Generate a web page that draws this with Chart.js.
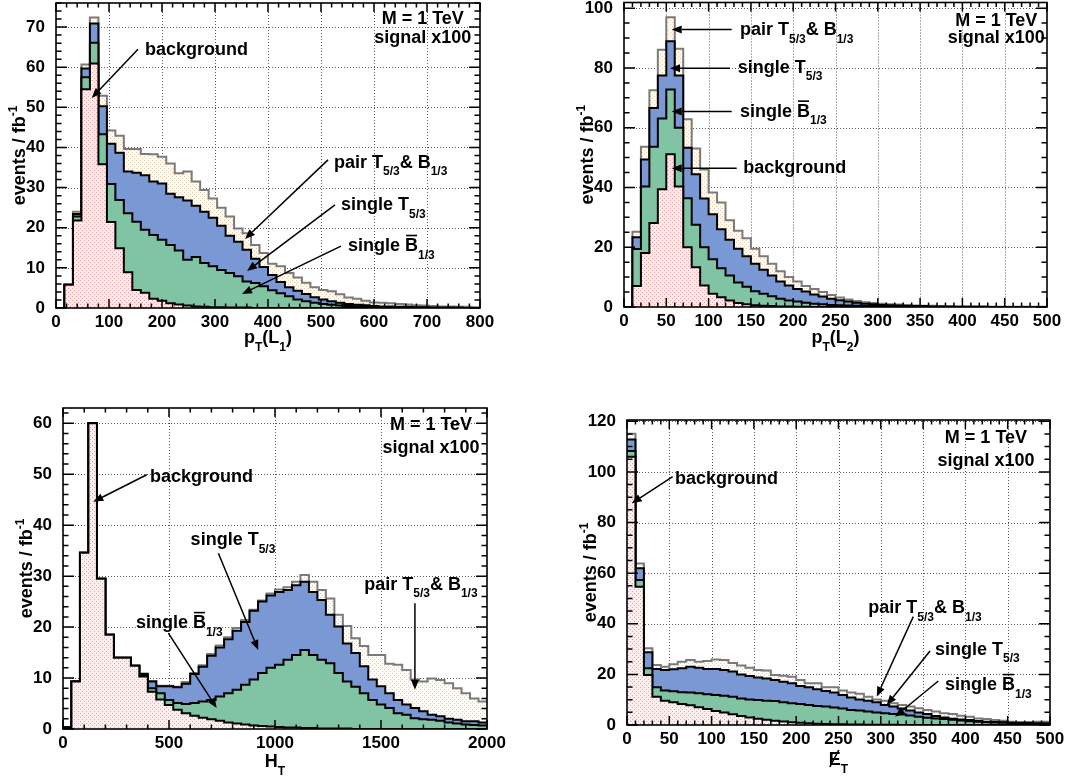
<!DOCTYPE html>
<html><head><meta charset="utf-8">
<script src="https://cdn.jsdelivr.net/npm/chart.js@4.4.0/dist/chart.umd.min.js"></script>
<style>
html,body{margin:0;padding:0;background:#fff;}
#wrap{position:relative;width:1068px;height:778px;overflow:hidden;}
canvas{position:absolute;}
</style></head><body>
<div id="wrap">
<canvas id="c1" width="534" height="389" style="left:0;top:0"></canvas>
<canvas id="c2" width="534" height="389" style="left:534px;top:0"></canvas>
<canvas id="c3" width="534" height="389" style="left:0;top:389px"></canvas>
<canvas id="c4" width="534" height="389" style="left:534px;top:389px"></canvas>
</div>
<script>
// ---------- DATA (events / fb^-1 per bin, signal x100) ----------
// pT(L1): 50 bins of 16 GeV from 0 to 800
const pt1BinWidth = 16;
const pt1Background = [0,5.8,21.8,54.5,60.9,35.8,21.4,14.9,8.9,4.5, 3.8,2.3,1.8,1.2,0.9,0.6,0.4,0.3,0.2,0.2, 0.1,0.1,0.1,0,0,0,0,0,0,0, 0,0,0,0,0,0,0,0,0,0, 0,0,0,0,0,0,0,0,0,0];
const pt1SingleB = [0,0,1.0,3.0,5.2,7.5,9.5,12.0,14.7,17.0, 15.7,15.9,15.2,14.5,13.4,11.4,12.3,10.9,10.2,9.3, 8.6,7.8,6.5,6.2,5.4,4.4,3.7,2.9,2.1,1.7, 1.3,1.0,0.8,0.6,0.5,0.4,0.3,0.3,0.2,0.2, 0.1,0.1,0.1,0.1,0,0,0,0,0,0];
const pt1SingleT = [0,0,0.6,2.2,4.8,7.0,10.0,11.8,10.4,12.2, 13.6,13.3,14.0,12.8,13.3,14.8,12.8,12.8,12.1,11.0, 9.3,8.6,7.9,6.1,4.8,3.8,2.8,2.3,2.2,1.8, 1.4,1.1,0.9,0.7,0.5,0.4,0.4,0.2,0.2,0.2, 0.2,0.2,0.1,0.1,0.1,0.1,0.1,0.1,0,0];
const pt1Pair = [0,0,0.6,1.0,1.5,2.6,3.3,4.2,5.6,5.9, 5.3,6.8,6.7,7.5,6.0,7.2,6.0,5.4,4.8,4.5, 4.8,3.3,4.1,3.4,3.5,2.8,3.9,3.5,3.3,2.8, 2.5,2.4,2.5,2.1,1.6,1.5,1.1,0.9,0.9,0.8, 0.7,0.6,0.5,0.4,0.4,0.3,0.3,0.2,0.3,0.2];
const pt1XTicks = [0,100,200,300,400,500,600,700,800];
const pt1YTicks = [0,10,20,30,40,50,60,70];

// pT(L2): 50 bins of 10 GeV from 0 to 500
const pt2BinWidth = 10;
const pt2Background = [0,7.0,18.1,28.1,39.4,51.1,40.3,20.0,13.3,7.2, 4.4,3.3,2.2,1.3,0.9,0.6,0.4,0.3,0.2,0.2, 0.1,0.1,0,0,0,0,0,0,0,0, 0,0,0,0,0,0,0,0,0,0, 0,0,0,0,0,0,0,0,0,0];
const pt2SingleB = [0,12.4,22.2,25.5,23.7,21.7,19.7,16.4,14.2,12.8, 11.6,9.7,8.3,6.9,5.9,4.7,4.0,3.3,2.6,2.0, 1.7,1.3,1.1,0.9,0.7,0.6,0.5,0.4,0.3,0.3, 0.2,0.2,0.1,0.1,0.1,0,0,0,0,0, 0,0,0,0,0,0,0,0,0,0];
const pt2SingleT = [0,3.9,9.1,13.0,14.4,16.1,17.5,16.9,16.9,16.3, 15.0,13.0,12.0,11.3,10.2,9.2,8.1,6.9,5.7,5.0, 4.2,3.8,3.1,2.6,2.1,1.7,1.3,1.0,0.8,0.6, 0.5,0.4,0.4,0.3,0.2,0.3,0.2,0.2,0.1,0.1, 0.1,0.1,0.1,0,0,0,0,0,0,0];
const pt2Pair = [0,1.9,4.2,5.9,8.6,8.1,8.9,9.5,8.6,9.7, 7.3,9.0,6.5,6.0,6.0,5.0,4.5,4.0,3.5,2.8, 2.5,1.8,1.8,1.5,1.2,0.9,0.7,0.6,0.5,0.4, 0.4,0.3,0.3,0.2,0.2,0.1,0.2,0.1,0.2,0.1, 0.1,0.1,0.1,0.1,0.1,0.1,0.1,0.1,0.1,0.1];
const pt2XTicks = [0,50,100,150,200,250,300,350,400,450,500];
const pt2YTicks = [0,20,40,60,80,100];

// HT: 50 bins of 40 GeV from 0 to 2000
const htBinWidth = 40;
const htBackground = [0.3,9.3,34.6,60.0,29.5,18.5,14.0,14.0,12.4,10.3, 7.3,5.8,4.7,3.8,3.1,2.6,2.2,1.9,1.6,1.3, 1.1,0.9,0.7,0.6,0.5,0.4,0.3,0.3,0.2,0.2, 0.1,0.1,0.1,0.1,0,0,0,0,0,0, 0,0,0,0,0,0,0,0,0,0];
const htSingleB = [0,0,0,0,0,0,0,0,0,0.2, 0.7,1.2,1.0,1.3,1.8,2.5,3.2,3.8,4.8,5.7, 6.6,7.8,9.0,10.4,11.5,12.2,13.3,14.2,15.3,14.3, 13.5,12.8,10.9,9.2,8.3,7.0,5.7,4.8,4.1,3.1, 2.8,2.1,1.9,1.8,1.6,1.3,1.1,0.9,0.8,0.7];
const htSingleT = [0,0,0,0,0,0,0,0,0,0.3, 1.3,1.4,2.7,3.1,4.0,5.7,6.8,8.7,9.6,10.6, 11.6,12.3,13.5,14.0,14.2,14.3,13.7,13.7,13.4,12.4, 11.7,9.5,9.1,7.5,6.6,5.3,4.0,3.6,2.9,2.6, 2.0,2.0,1.6,1.0,0.9,0.7,0.7,0.6,0.7,0.6];
const htPair = [0,0,0,0,0,0,0,0,0,0.1, 0.1,0.1,0.1,0.1,0.3,0.2,0.3,0.3,0.4,0.4, 0.5,0.4,0.2,0.2,0.4,0.5,0.5,0.7,1.3,2.0, 2.0,3.2,2.3,3.4,2.9,4.0,4.8,6.1,5.8,6.9, 6.8,5.6,5.8,7.1,7.1,7.0,6.2,5.5,4.5,4.1];
const htXTicks = [0,500,1000,1500,2000];
const htYTicks = [0,10,20,30,40,50,60];

// missing ET: 50 bins of 10 GeV from 0 to 500
const metBinWidth = 10;
const metBackground = [106,54.6,19.8,11.2,9.6,9.0,8.3,7.8,7.0,6.3, 5.5,4.9,4.2,3.6,3.0,2.5,2.1,1.7,1.4,1.1, 0.9,0.7,0.5,0.4,0.3,0.3,0.2,0.2,0.1,0.1, 0.1,0.1,0,0,0,0,0,0,0,0, 0,0,0,0,0,0,0,0,0,0];
const metSingleB = [2.3,2.7,2.6,3.7,4.0,4.3,4.6,5.0,5.5,5.8, 6.4,6.7,7.0,6.9,7.1,7.4,7.5,7.8,7.6,7.5, 7.4,7.2,7.0,6.9,6.6,6.2,5.7,5.5,5.2,4.8, 4.5,4.2,4.1,3.8,3.3,2.9,2.6,2.4,2.1,1.8, 1.5,1.3,1.1,1.0,0.9,0.7,0.6,0.5,0.5,0.4];
const metSingleT = [4.5,4.6,6.3,7.2,8.1,8.7,9.5,10.2,10.1,10.0, 10.2,10.1,9.9,9.5,9.3,8.9,8.8,8.3,8.1,7.9, 7.1,7.0,6.6,6.1,5.9,5.4,5.0,4.4,4.3,4.1, 3.3,3.0,2.4,1.9,1.6,1.4,1.0,0.6,0.4,0.4, 0.5,0.3,0.2,0.2,0.2,0.2,0.2,0.3,0.2,0.3];
const metPair = [2.3,1.9,1.6,1.6,1.3,2.0,2.6,2.7,2.4,3.2, 3.8,4.0,3.4,3.5,3.2,2.9,3.1,2.0,2.4,2.6, 2.4,1.6,2.4,1.5,2.1,1.7,1.9,2.2,1.6,1.1, 1.7,1.3,1.4,1.6,1.7,1.6,1.7,1.6,1.8,1.5, 1.3,1.0,1.1,0.8,0.6,0.4,0.4,0.4,0.6,0.6];
const metXTicks = [0,50,100,150,200,250,300,350,400,450,500];
const metYTicks = [0,20,40,60,80,100,120];

// ---------- STYLE ----------
const FONT = '"Liberation Sans", Arial, Helvetica, sans-serif';
function makePattern(base, dot) {
  const c = document.createElement('canvas'); c.width = 4; c.height = 4;
  const g = c.getContext('2d');
  g.fillStyle = base; g.fillRect(0, 0, 4, 4);
  g.fillStyle = dot; g.fillRect(0, 0, 1, 1); g.fillRect(2, 2, 1, 1);
  return g.createPattern(c, 'repeat');
}
const PINK = makePattern('rgb(254,238,238)', 'rgb(240,160,160)');
const CREAM = makePattern('rgb(255,252,248)', 'rgb(226,204,176)');
const GREEN = 'rgb(128,196,164)';
const BLUE = 'rgb(122,152,211)';

// annotation label parts
const L_PAIR = [['pair T'], ['5/3', 'sub'], ['& B'], ['1/3', 'sub']];
const L_ST = [['single T'], ['5/3', 'sub']];
const L_SB = [['single '], ['B', 'bar'], ['1/3', 'sub']];
const L_BG = [['background']];
const L_M = [['M = 1 TeV']];
const L_SIG = [['signal x100']];
const Y_TITLE = [['events / fb'], ['-1', 'sup']];

function richWidth(ctx, parts) {
  let w = 0;
  for (const [t, k] of parts) {
    ctx.font = 'bold ' + ((k === 'sub' || k === 'sup') ? 12 : 18) + 'px ' + FONT;
    w += ctx.measureText(t).width;
  }
  return w;
}
function drawRich(ctx, x, y, parts, align) {
  const w = richWidth(ctx, parts);
  let cx = align === 'center' ? x - w / 2 : (align === 'right' ? x - w : x);
  ctx.textAlign = 'left'; ctx.textBaseline = 'alphabetic';
  ctx.fillStyle = '#000'; ctx.strokeStyle = '#000';
  for (const [t, k] of parts) {
    const small = (k === 'sub' || k === 'sup');
    ctx.font = 'bold ' + (small ? 12 : 18) + 'px ' + FONT;
    const dy = k === 'sub' ? 7.5 : (k === 'sup' ? -8 : 0);
    ctx.fillText(t, cx, y + dy);
    const tw = ctx.measureText(t).width;
    if (k === 'bar') {
      ctx.lineWidth = 1.6; ctx.beginPath();
      ctx.moveTo(cx + 1, y - 15.5); ctx.lineTo(cx + tw - 1, y - 15.5); ctx.stroke();
    }
    if (k === 'slash') {
      ctx.lineWidth = 1.6; ctx.beginPath();
      ctx.moveTo(cx + 1, y + 2); ctx.lineTo(cx + tw - 2, y - 15); ctx.stroke();
    }
    cx += tw;
  }
}
function drawArrow(ctx, x1, y1, x2, y2) {
  ctx.strokeStyle = '#000'; ctx.fillStyle = '#000'; ctx.lineWidth = 1.5;
  const a = Math.atan2(y2 - y1, x2 - x1), len = 10, hw = 4;
  const bx = x2 - len * Math.cos(a), by = y2 - len * Math.sin(a);
  ctx.beginPath(); ctx.moveTo(x1, y1); ctx.lineTo(bx, by); ctx.stroke();
  ctx.beginPath(); ctx.moveTo(x2, y2);
  ctx.lineTo(bx + hw * Math.sin(a), by - hw * Math.cos(a));
  ctx.lineTo(bx - hw * Math.sin(a), by + hw * Math.cos(a));
  ctx.closePath(); ctx.fill();
}

function makeDeco(cfg) {
  return {
    id: 'rootDeco',
    beforeDatasetsDraw(chart) {
      const { ctx, chartArea: a, scales: { x, y } } = chart;
      ctx.save();
      ctx.strokeStyle = '#5a5a5a'; ctx.lineWidth = 1; ctx.setLineDash([1, 2]);
      cfg.xTicks.forEach(v => {
        if (v <= x.min || v >= x.max) return;
        const px = Math.round(x.getPixelForValue(v)) + 0.5;
        ctx.beginPath(); ctx.moveTo(px, a.top); ctx.lineTo(px, a.bottom); ctx.stroke();
      });
      cfg.yTicks.forEach(v => {
        if (v <= y.min || v >= y.max) return;
        const py = Math.round(y.getPixelForValue(v)) + 0.5;
        ctx.beginPath(); ctx.moveTo(a.left, py); ctx.lineTo(a.right, py); ctx.stroke();
      });
      ctx.restore();
    },
    afterDatasetsDraw(chart) {
      const { ctx, chartArea: a, scales: { x, y } } = chart;
      ctx.save();
      ctx.strokeStyle = '#000'; ctx.lineWidth = 1.5;
      const nx = Math.round(x.max / cfg.xMinor);
      for (let i = 0; i <= nx; i++) {
        const v = i * cfg.xMinor;
        const major = cfg.xTicks.includes(v);
        const len = major ? 9 : 4.5;
        const px = x.getPixelForValue(v);
        ctx.beginPath();
        ctx.moveTo(px, a.bottom); ctx.lineTo(px, a.bottom - len);
        ctx.moveTo(px, a.top); ctx.lineTo(px, a.top + len);
        ctx.stroke();
      }
      const ny = Math.floor(y.max / cfg.yMinor + 1e-6);
      for (let i = 0; i <= ny; i++) {
        const v = i * cfg.yMinor;
        const major = cfg.yTicks.includes(v);
        const len = major ? 11 : 5.5;
        const py = y.getPixelForValue(v);
        ctx.beginPath();
        ctx.moveTo(a.left, py); ctx.lineTo(a.left + len, py);
        ctx.moveTo(a.right, py); ctx.lineTo(a.right - len, py);
        ctx.stroke();
      }
      ctx.lineWidth = 1.6;
      ctx.strokeRect(a.left, a.top, a.right - a.left, a.bottom - a.top);
      ctx.restore();
    },
    afterDraw(chart) {
      const { ctx, chartArea: a, scales: { x, y } } = chart;
      ctx.save();
      drawRich(ctx, (a.left + a.right) / 2, a.bottom + cfg.xTitleDy, cfg.xTitle, 'center');
      ctx.save();
      ctx.translate(a.left - 31, (a.top + a.bottom) / 2);
      ctx.rotate(-Math.PI / 2);
      drawRich(ctx, 0, 0, Y_TITLE, 'center');
      ctx.restore();
      cfg.notes.forEach(n => {
        if (n.arrow) {
          drawArrow(ctx, x.getPixelForValue(n.arrow[0]), y.getPixelForValue(n.arrow[1]),
                    x.getPixelForValue(n.arrow[2]), y.getPixelForValue(n.arrow[3]));
        }
        drawRich(ctx, x.getPixelForValue(n.x), y.getPixelForValue(n.y), n.parts, n.align || 'left');
      });
      ctx.restore();
    }
  };
}

function stepPoints(levels, w) {
  const pts = [];
  levels.forEach((v, i) => { pts.push({ x: i * w, y: v }, { x: (i + 1) * w, y: v }); });
  return pts;
}

function makeChart(id, cfg) {
  const canvas = document.getElementById(id);
  const W = canvas.width, H = canvas.height;
  const [bg, sB, sT, pr] = cfg.series;
  const lvBg = bg.slice();
  const lvB = bg.map((v, i) => v + sB[i]);
  const lvT = lvB.map((v, i) => v + sT[i]);
  const lvP = lvT.map((v, i) => v + pr[i]);
  const w = cfg.binWidth;
  const r = cfg.rect;
  const tickFont = { family: FONT, size: 17, weight: 'bold' };
  return new Chart(canvas, {
    type: 'line',
    data: {
      datasets: [
        { data: stepPoints(lvBg, w), borderColor: '#000', borderWidth: 2, backgroundColor: PINK, fill: 'origin' },
        { data: stepPoints(lvB, w), borderColor: '#000', borderWidth: 2, backgroundColor: GREEN, fill: '-1' },
        { data: stepPoints(lvT, w), borderColor: '#000', borderWidth: 2, backgroundColor: BLUE, fill: '-1' },
        { data: stepPoints(lvP, w), borderColor: '#7a7a7a', borderWidth: 2, backgroundColor: CREAM, fill: '-1' }
      ]
    },
    options: {
      responsive: false, animation: false, devicePixelRatio: 1, events: [],
      layout: { padding: { left: 0, top: r.T, right: W - r.R, bottom: 0 } },
      elements: { point: { radius: 0 }, line: { tension: 0, borderJoinStyle: 'miter' } },
      plugins: { legend: { display: false }, tooltip: { enabled: false } },
      scales: {
        x: {
          type: 'linear', min: 0, max: cfg.xMax,
          grid: { display: false }, border: { display: false },
          ticks: { font: tickFont, color: '#000', padding: -4, maxRotation: 0, minRotation: 0, autoSkip: false, callback: v => String(v) },
          afterBuildTicks: s => { s.ticks = cfg.xTicks.map(v => ({ value: v })); },
          afterFit: s => { s.height = H - r.B; s.paddingLeft = 0; s.paddingRight = 0; }
        },
        y: {
          type: 'linear', min: 0, max: cfg.yMax,
          grid: { display: false }, border: { display: false },
          ticks: { font: tickFont, color: '#000', padding: 3, autoSkip: false, callback: v => String(v) },
          afterBuildTicks: s => { s.ticks = cfg.yTicks.map(v => ({ value: v })); },
          afterFit: s => { s.width = r.L; s.paddingTop = 0; s.paddingBottom = 0; }
        }
      }
    },
    plugins: [makeDeco(cfg)]
  });
}

makeChart('c1', {
  series: [pt1Background, pt1SingleB, pt1SingleT, pt1Pair], binWidth: pt1BinWidth,
  xTicks: pt1XTicks, yTicks: pt1YTicks, xMax: 800, yMax: 76, xMinor: 20, yMinor: 2,
  rect: { L: 56, T: 3, R: 480, B: 308 }, xTitleDy: 35,
  xTitle: [['p'], ['T', 'sub'], ['(L'], ['1', 'sub'], [')']],
  notes: [
    { parts: L_M, x: 692, y: 70.8, align: 'center' },
    { parts: L_SIG, x: 692, y: 66.0, align: 'center' },
    { parts: L_BG, x: 168, y: 63.0, arrow: [154.7, 64.5, 67.4, 52.3] },
    { parts: L_PAIR, x: 524.5, y: 34.9, arrow: [513.2, 36.9, 356.6, 17.2] },
    { parts: L_ST, x: 537.7, y: 24.4, arrow: [526.4, 25.7, 360.4, 9.2] },
    { parts: L_SB, x: 551, y: 14.2, arrow: [537.7, 15.4, 350.9, 3.5] }
  ]
});
makeChart('c2', {
  series: [pt2Background, pt2SingleB, pt2SingleT, pt2Pair], binWidth: pt2BinWidth,
  xTicks: pt2XTicks, yTicks: pt2YTicks, xMax: 500, yMax: 101.9, xMinor: 10, yMinor: 5,
  rect: { L: 90, T: 2.5, R: 513, B: 307 }, xTitleDy: 36,
  xTitle: [['p'], ['T', 'sub'], ['(L'], ['2', 'sub'], [')']],
  notes: [
    { parts: L_M, x: 440, y: 94.0, align: 'center' },
    { parts: L_SIG, x: 440, y: 88.4, align: 'center' },
    { parts: L_PAIR, x: 137.1, y: 91.0, arrow: [127.3, 92.9, 56.4, 92.9] },
    { parts: L_ST, x: 134.4, y: 78.4, arrow: [125.3, 79.9, 54.4, 79.9] },
    { parts: L_SB, x: 137.1, y: 63.7, arrow: [127.3, 65.4, 56.4, 65.4] },
    { parts: L_BG, x: 141, y: 44.7, arrow: [133.2, 46.4, 56.4, 46.4] }
  ]
});
makeChart('c3', {
  series: [htBackground, htSingleB, htSingleT, htPair], binWidth: htBinWidth,
  xTicks: htXTicks, yTicks: htYTicks, xMax: 2000, yMax: 63, xMinor: 100, yMinor: 2,
  rect: { L: 63, T: 19, R: 487, B: 340 }, xTitleDy: 38,
  xTitle: [['H'], ['T', 'sub']],
  notes: [
    { parts: L_M, x: 1736, y: 58.7, align: 'center' },
    { parts: L_SIG, x: 1736, y: 54.1, align: 'center' },
    { parts: L_BG, x: 410, y: 48.5, arrow: [395, 49.9, 143, 44.6] },
    { parts: L_ST, x: 602, y: 36.1, arrow: [733, 34.5, 921, 15.5] },
    { parts: L_SB, x: 344, y: 19.8, arrow: [497, 18.8, 725, 4.1] },
    { parts: L_PAIR, x: 1421, y: 27.3, arrow: [1660, 24.7, 1660, 7.7] }
  ]
});
makeChart('c4', {
  series: [metBackground, metSingleB, metSingleT, metPair], binWidth: metBinWidth,
  xTicks: metXTicks, yTicks: metYTicks, xMax: 500, yMax: 120.5, xMinor: 10, yMinor: 5,
  rect: { L: 93, T: 31, R: 516, B: 336 }, xTitleDy: 40,
  xTitle: [['E', 'slash'], ['T', 'sub']],
  notes: [
    { parts: L_M, x: 424.3, y: 111.3, align: 'center' },
    { parts: L_SIG, x: 424.3, y: 102.4, align: 'center' },
    { parts: L_BG, x: 56.7, y: 95.1, arrow: [54, 98.1, 5.6, 87.6] },
    { parts: L_PAIR, x: 285.2, y: 44.1, arrow: [338.4, 42.8, 295.2, 11.2] },
    { parts: L_ST, x: 364, y: 27.7, arrow: [358.2, 29.2, 307, 7.9] },
    { parts: L_SB, x: 375.9, y: 13.8, arrow: [368, 17.4, 316.8, 3.3] }
  ]
});
</script>
</body></html>
